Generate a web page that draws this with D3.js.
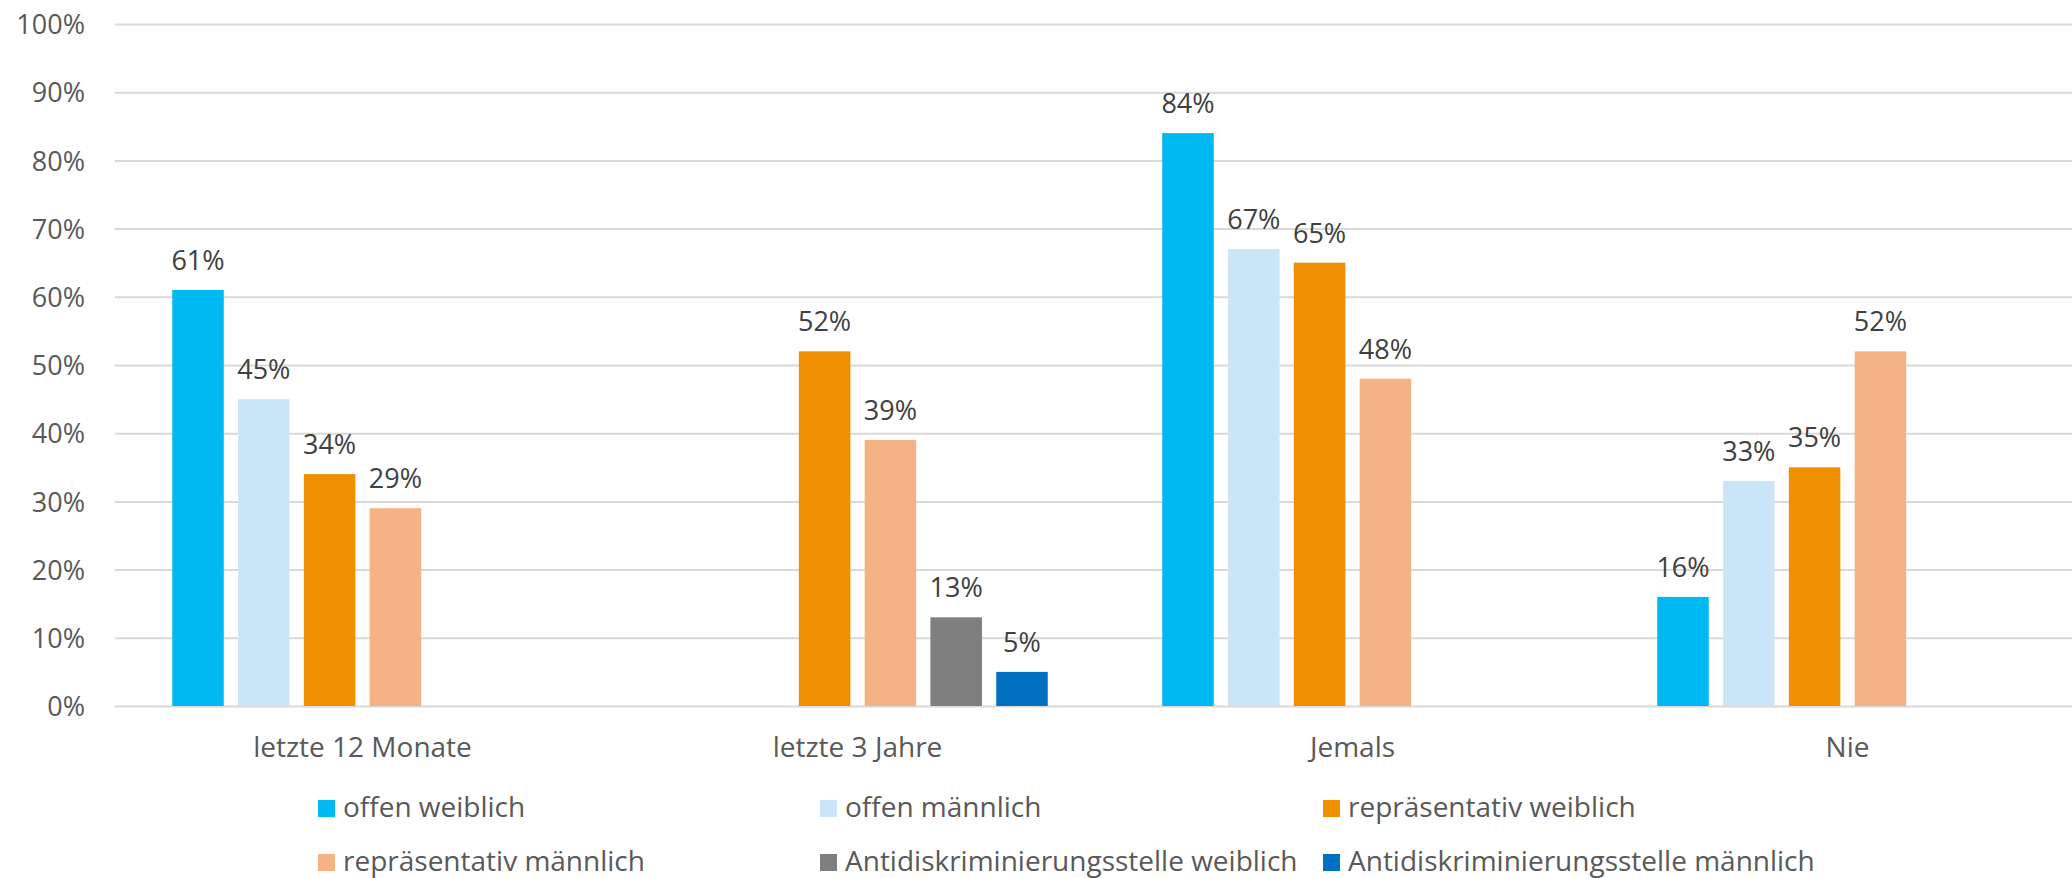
<!DOCTYPE html>
<html>
<head>
<meta charset="utf-8">
<script src="https://cdn.jsdelivr.net/npm/d3@7"></script>
<style>
  html, body { margin: 0; padding: 0; background: #fff; }
  svg { display: block; font-family: "Open Sans", sans-serif; }
</style>
</head>
<body>
<svg id="chart" width="2072" height="878"></svg>
<script>
const categories = ["letzte 12 Monate", "letzte 3 Jahre", "Jemals", "Nie"];
const seriesNames = [
  "offen weiblich", "offen männlich", "repräsentativ weiblich",
  "repräsentativ männlich", "Antidiskriminierungsstelle weiblich", "Antidiskriminierungsstelle männlich"
];
const seriesColors = ["#00B9F2", "#CBE5F8", "#F09000", "#F5B385", "#7F7F7F", "#0070C0"];
const offenWeiblich = [61, null, 84, 16];
const offenMaennlich = [45, null, 67, 33];
const repWeiblich = [34, 52, 65, 35];
const repMaennlich = [29, 39, 48, 52];
const adsWeiblich = [null, 13, null, null];
const adsMaennlich = [null, 5, null, null];
const yTicks = [0, 10, 20, 30, 40, 50, 60, 70, 80, 90, 100];

const seriesValues = [offenWeiblich, offenMaennlich, repWeiblich, repMaennlich, adsWeiblich, adsMaennlich];

const svg = d3.select("#chart");
const plotLeft = 115, plotRight = 2095, yTop = 24, yBottom = 706;

const x0 = d3.scaleBand().domain(categories).range([plotLeft, plotRight])
  .paddingInner(0.2313).paddingOuter(0.11565);
const x1 = d3.scaleBand().domain(seriesNames).range([0, x0.bandwidth()])
  .paddingInner(0.217).paddingOuter(0);
const y = d3.scaleLinear().domain([0, 100]).range([yBottom, yTop]);

// gridlines
const yAxis = d3.axisLeft(y).tickValues(yTicks).tickSize(-(plotRight - plotLeft)).tickFormat(d => d + "%");
const gAxis = svg.append("g").attr("transform", `translate(${plotLeft},0)`).call(yAxis);
gAxis.select(".domain").remove();
gAxis.selectAll(".tick line").attr("stroke", "#D9D9D9").attr("stroke-width", 2);
gAxis.selectAll(".tick text")
  .attr("x", -30).attr("dy", "0.36em")
  .attr("fill", "#595959").attr("font-size", 27).attr("font-family", "Open Sans");

// bars
const groups = svg.append("g").selectAll("g").data(categories).join("g")
  .attr("transform", d => `translate(${x0(d)},0)`);

groups.each(function(cat, ci) {
  const g = d3.select(this);
  const data = seriesNames.map((s, si) => ({ s, si, v: seriesValues[si][ci] })).filter(d => d.v != null);
  g.selectAll("rect").data(data).join("rect")
    .attr("x", d => x1(d.s)).attr("width", x1.bandwidth())
    .attr("y", d => y(d.v)).attr("height", d => y(0) - y(d.v))
    .attr("fill", d => seriesColors[d.si]);
  g.selectAll("text").data(data).join("text")
    .attr("x", d => x1(d.s) + x1.bandwidth() / 2)
    .attr("y", d => y(d.v) - 20)
    .attr("text-anchor", "middle")
    .attr("fill", "#404040").attr("font-size", 27)
    .text(d => d.v + "%");
});

// category labels
const xAxis = d3.axisBottom(x0).tickSize(0).tickPadding(0);
const gx = svg.append("g").attr("transform", `translate(0,${yBottom})`).call(xAxis);
gx.select(".domain").remove();
gx.selectAll(".tick text").attr("y", 51).attr("dy", 0)
  .attr("fill", "#595959").attr("font-size", 28).attr("font-family", "Open Sans");

// legend
const legendCols = [318, 820, 1323];
const legendRows = [817, 871];
const lg = svg.append("g").selectAll("g").data(seriesNames).join("g")
  .attr("transform", (d, i) => `translate(${legendCols[i % 3]},${legendRows[Math.floor(i / 3)]})`);
lg.append("rect").attr("x", 0).attr("y", -17).attr("width", 17).attr("height", 17)
  .attr("fill", (d, i) => seriesColors[i]);
lg.append("text").attr("x", 25).attr("y", 0)
  .attr("fill", "#595959").attr("font-size", 28).text(d => d);
</script>
</body>
</html>
